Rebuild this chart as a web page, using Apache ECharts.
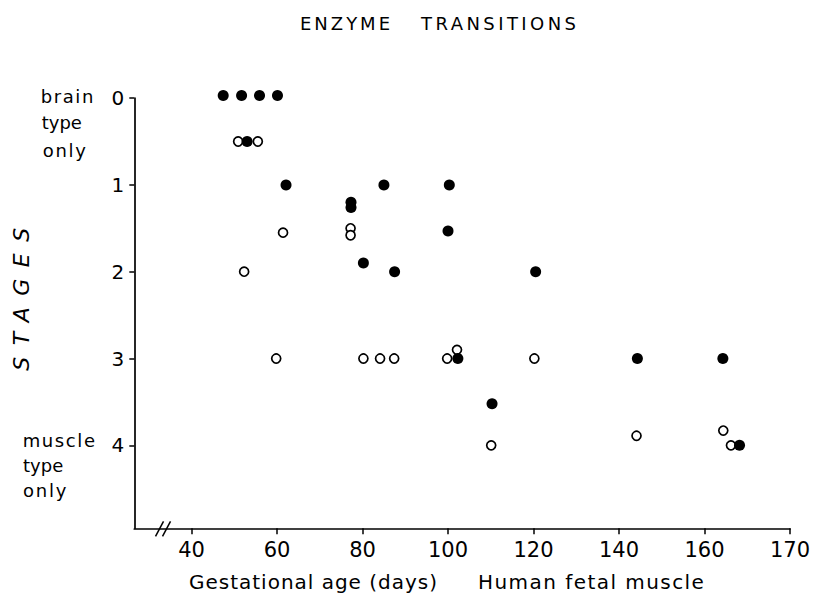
<!DOCTYPE html>
<html><head><meta charset="utf-8">
<script src="https://cdn.jsdelivr.net/npm/echarts@6/dist/echarts.min.js"></script>
<style>html,body{margin:0;padding:0;background:#fff}#c{width:813px;height:594px}svg text{white-space:pre}</style>
</head><body><div id="c"></div>
<script>
// ---- data ----
const filledPoints = [
  [47.4,-0.03],[51.7,-0.03],[55.9,-0.03],[60.1,-0.03],
  [53.0,0.5],
  [62.1,1],[85.0,1],[100.3,1],
  [77.3,1.2],[77.3,1.26],
  [100.0,1.53],
  [80.2,1.9],[87.5,2],[120.5,2],
  [102.3,3],[144.3,3],[164.3,3],
  [110.3,3.52],
  [168.2,4.0]
];
const openPoints = [
  [50.9,0.5],[55.5,0.5],
  [61.4,1.55],[77.2,1.5],[77.2,1.58],
  [52.3,2],
  [59.8,3],[80.2,3],[84.1,3],[87.4,3],[99.8,3],[120.2,3],
  [102.1,2.9],
  [110.1,4],[144.1,3.89],[164.4,3.83],[166.2,4.0]
];
const xTickValues = [40,60,80,100,120,140,160,180];
const xTickLabels = ['40','60','80','100','120','140','160','170'];
const yTickValues = [0,1,2,3,4];
const yTickLabels = ['0','1','2','3','4'];
const titleWords = ['ENZYME','TRANSITIONS'];
const yAxisTitle = 'STAGES';
const brainLabel = ['brain','type','only'];
const muscleLabel = ['muscle','type','only'];
const xCaption = ['Gestational age (days)','Human fetal muscle'];

// ---- layout ----
const FONT = 'DejaVu Sans';
const chart = echarts.init(document.getElementById('c'), null, {renderer:'svg'});
const mctx = document.createElement('canvas').getContext('2d');
const spacing = {};
function fit(text, font, target){
  mctx.font = font;
  const w = mctx.measureText(text).width;
  const ls = Math.max(0,(target - w)/(text.length-1));
  spacing[text] = ls;
}
function txt(text, x, y, size, target, extra){
  const font = (extra && extra.italic ? 'italic ' : '') + size + 'px "' + FONT + '"';
  fit(text, font, target);
  return Object.assign({
    type:'text', x:x, y:y, silent:true,
    style:{text:text, font:font, fill:'#000', textAlign:'left', textVerticalAlign:'middle'}
  }, extra && extra.el ? extra.el : {});
}

const option = {
  animation:false,
  backgroundColor:'#fff',
  grid:{left:134.3, right:21.3, top:98.1, bottom:65.7, containLabel:false},
  xAxis:{
    type:'value', min:26.6, max:180,
    axisLine:{show:true, onZero:false, lineStyle:{color:'#000', width:1.7}},
    axisTick:{show:true, length:6, customValues:xTickValues, lineStyle:{color:'#000', width:1.5}},
    axisLabel:{customValues:xTickValues, color:'#000', fontSize:21, fontFamily:FONT, margin:11,
      formatter:v => { const i = xTickValues.indexOf(v); return i>=0 ? xTickLabels[i] : ''; }},
    splitLine:{show:false}
  },
  yAxis:{
    type:'value', inverse:true, min:0, max:4.956,
    axisLine:{show:true, onZero:false, lineStyle:{color:'#000', width:1.7}},
    axisTick:{show:true, length:5, customValues:yTickValues, lineStyle:{color:'#000', width:1.5}},
    axisLabel:{customValues:yTickValues, color:'#000', fontSize:20, fontFamily:FONT, margin:10,
      formatter:v => { const i = yTickValues.indexOf(v); return i>=0 ? yTickLabels[i] : ''; }},
    splitLine:{show:false}
  },
  series:[
    {type:'scatter', name:'open', data:openPoints, symbol:'circle', symbolSize:9, clip:false,
     itemStyle:{color:'#fff', borderColor:'#000', borderWidth:1.7, opacity:1}},
    {type:'scatter', name:'filled', data:filledPoints, symbol:'circle', symbolSize:11, clip:false,
     itemStyle:{color:'#000', opacity:1}}
  ]
};
chart.setOption(option);

// axis break marks placed from the axis scale
const bx = chart.convertToPixel({xAxisIndex:0}, 33.2);
const by = chart.convertToPixel({yAxisIndex:0}, 4.956);
const graphics = [
  {type:'line', silent:true, shape:{x1:bx-7, y1:by+8, x2:bx+1, y2:by-7}, style:{stroke:'#000', lineWidth:1.5}},
  {type:'line', silent:true, shape:{x1:bx, y1:by+8, x2:bx+8, y2:by-7}, style:{stroke:'#000', lineWidth:1.5}},
  txt(titleWords[0], 300, 23.7, 18, 90),
  txt(titleWords[1], 421, 23.7, 18, 155),
  txt(brainLabel[0], 40.7, 96.8, 18, 52.6),
  txt(brainLabel[1], 41.7, 122.5, 18, 40),
  txt(brainLabel[2], 42.7, 150, 18, 43.3),
  txt(muscleLabel[0], 22.7, 440.5, 18, 72.3),
  txt(muscleLabel[1], 23, 465.5, 18, 40),
  txt(muscleLabel[2], 23, 490.5, 18, 43.3),
  txt(xCaption[0], 189, 582, 20, 248),
  txt(xCaption[1], 478, 582, 20, 226),
  txt(yAxisTitle, 21, 293.5, 22, 143, {italic:true, el:{rotation:Math.PI/2}})
];
// STAGES is centred on its point
graphics[graphics.length-1].style.textAlign = 'center';
chart.setOption({graphic:graphics});

// apply letter spacing to the free texts
document.querySelectorAll('#c text').forEach(t => {
  const s = spacing[t.textContent];
  if (s !== undefined) t.setAttribute('letter-spacing', s.toFixed(2) + 'px');
});
</script></body></html>
